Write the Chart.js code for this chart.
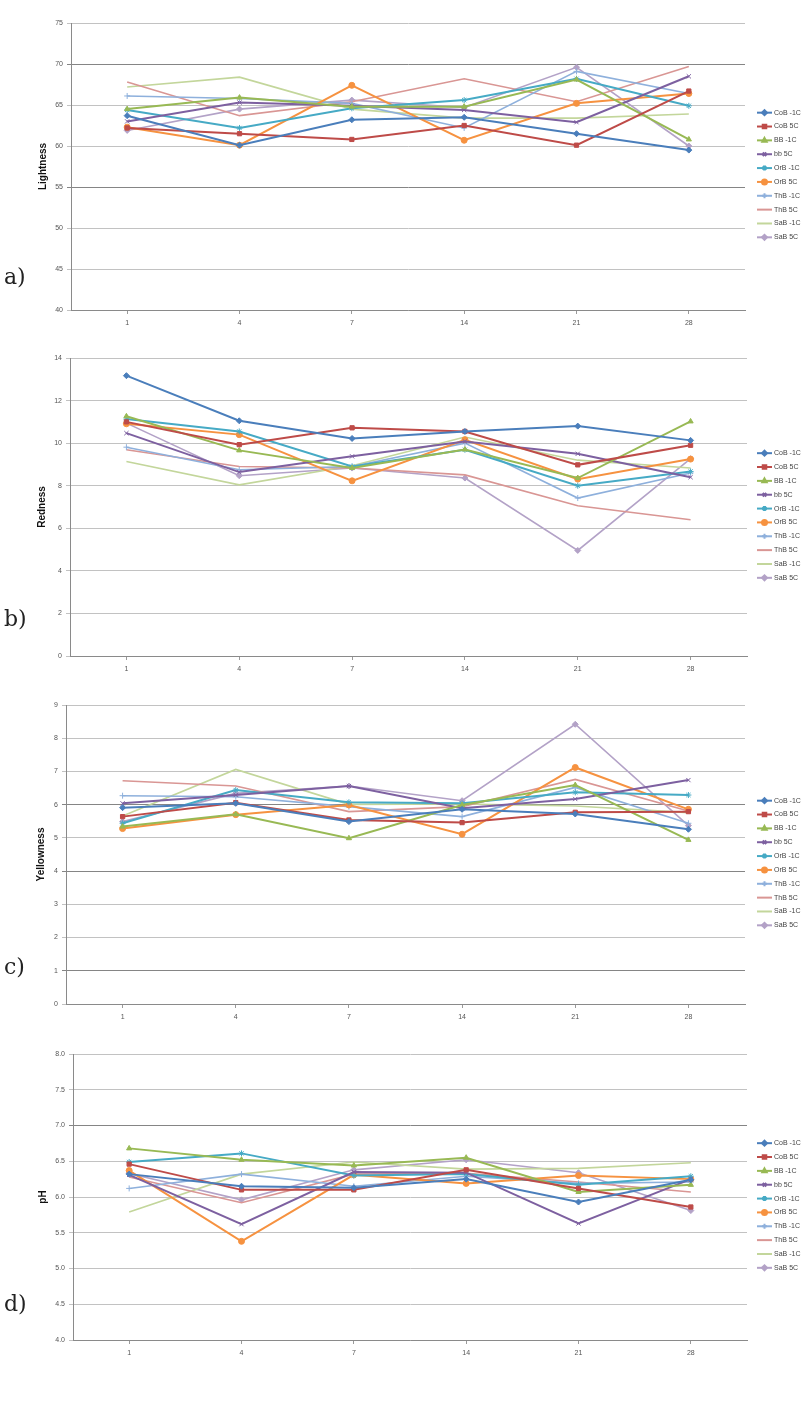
<!DOCTYPE html>
<html>
<head>
<meta charset="utf-8">
<script src="https://cdn.jsdelivr.net/npm/chart.js@4.4.1/dist/chart.umd.min.js"></script>
<style>
    body { margin: 0; background: #fff; width: 812px; height: 1401px; position: relative; overflow: hidden; }
    .frame { position: absolute; left: 0; width: 812px; }
    .tag { position: absolute; left: 4px; font-family: "DejaVu Serif", "Liberation Serif", serif; font-size: 22px; color: #222; line-height: 1; }
</style>
</head>
<body>
<div class="frame" id="frame-a"><canvas id="canvas-a"></canvas></div>
<div class="frame" id="frame-b"><canvas id="canvas-b"></canvas></div>
<div class="frame" id="frame-c"><canvas id="canvas-c"></canvas></div>
<div class="frame" id="frame-d"><canvas id="canvas-d"></canvas></div>
<div class="tag" style="top:266px">a)</div>
<div class="tag" style="top:608px">b)</div>
<div class="tag" style="top:956px">c)</div>
<div class="tag" style="top:1293px">d)</div>
<script>
const days = ['1', '4', '7', '14', '21', '28']
const series_names = ['CoB -1C', 'CoB 5C', 'BB -1C', 'bb 5C', 'OrB -1C', 'OrB 5C', 'ThB -1C', 'ThB 5C', 'SaB -1C', 'SaB 5C']

// one row per series, same order as series_names
const lightness = [
    [63.7, 60.1, 63.2, 63.5, 61.5, 59.5],
    [62.2, 61.5, 60.8, 62.5, 60.1, 66.7],
    [64.5, 65.9, 64.8, 64.8, 68.1, 60.8],
    [63.0, 65.3, 64.9, 64.4, 62.9, 68.5],
    [64.4, 62.2, 64.6, 65.6, 68.2, 64.9],
    [62.3, 60.1, 67.4, 60.7, 65.2, 66.4],
    [66.1, 65.8, 65.2, 62.2, 69.1, 66.4],
    [67.8, 63.7, 65.4, 68.2, 65.4, 69.7],
    [67.2, 68.4, 64.5, 63.4, 63.4, 63.9],
    [61.9, 64.5, 65.6, 64.7, 69.6, 60.0]
]
const redness = [
    [13.17, 11.05, 10.22, 10.55, 10.80, 10.13],
    [11.00, 9.93, 10.72, 10.55, 8.98, 9.90],
    [11.26, 9.66, 8.83, 9.70, 8.36, 11.02],
    [10.47, 8.64, 9.38, 10.08, 9.50, 8.40],
    [11.13, 10.55, 8.90, 9.69, 8.00, 8.67],
    [10.91, 10.40, 8.23, 10.16, 8.31, 9.25],
    [9.81, 8.75, 8.90, 10.00, 7.42, 8.60],
    [9.69, 8.90, 8.83, 8.51, 7.06, 6.40],
    [9.14, 8.04, 8.94, 10.29, 9.20, 8.83],
    [10.94, 8.47, 8.83, 8.36, 4.96, 9.27]
]
const yellowness = [
    [5.91, 6.04, 5.49, 5.86, 5.72, 5.26],
    [5.64, 6.06, 5.54, 5.46, 5.77, 5.79],
    [5.34, 5.71, 4.99, 5.99, 6.59, 4.94],
    [6.04, 6.29, 6.56, 5.89, 6.17, 6.74],
    [5.44, 6.44, 6.07, 6.04, 6.37, 6.29],
    [5.28, 5.70, 5.99, 5.11, 7.12, 5.86],
    [6.27, 6.24, 5.94, 5.64, 6.52, 5.44],
    [6.72, 6.56, 5.79, 5.94, 6.76, 5.81],
    [5.66, 7.06, 6.01, 6.02, 5.96, 5.76],
    [5.49, 6.34, 6.56, 6.12, 8.42, 5.37]
]
const ph = [
    [6.32, 6.15, 6.13, 6.25, 5.93, 6.24],
    [6.46, 6.10, 6.10, 6.38, 6.12, 5.86],
    [6.68, 6.52, 6.44, 6.55, 6.07, 6.17],
    [6.31, 5.62, 6.35, 6.34, 5.63, 6.25],
    [6.49, 6.61, 6.30, 6.32, 6.17, 6.29],
    [6.37, 5.38, 6.31, 6.19, 6.30, 6.25],
    [6.12, 6.32, 6.15, 6.29, 6.19, 6.21],
    [6.28, 5.92, 6.32, 6.33, 6.21, 6.07],
    [5.79, 6.32, 6.49, 6.39, 6.40, 6.48],
    [6.33, 5.96, 6.38, 6.52, 6.34, 5.81]
]

const COLORS = ['#4A7EBB', '#BE4B48', '#98B954', '#7D60A0', '#46AAC5', '#F69240', '#8EB0DC', '#D99694', '#C3D69B', '#B3A2C7']
const MARKERS = ['rectRot', 'rect', 'triangle', 'crossRot', 'star', 'circle', 'cross', false, false, 'rectRot']
const FONT = '"Liberation Sans", Arial, sans-serif'

// hand-drawn legend: a short line with the marker in the middle, like the spreadsheet one
const side_legend = {
    id: 'side_legend',
    afterDraw(chart) {
        const ctx = chart.ctx
        const area = chart.chartArea
        const step = 13.85
        const first = (area.top + area.bottom) / 2 + 8.5 - step * 4.5
        ctx.save()
        chart.data.datasets.forEach((ds, i) => {
            const y = first + i * step
            ctx.strokeStyle = ds.borderColor
            ctx.lineWidth = 2
            ctx.beginPath()
            ctx.moveTo(757, y)
            ctx.lineTo(772, y)
            ctx.stroke()
            if (ds.pointStyle) {
                ctx.fillStyle = ds.borderColor
                Chart.helpers.drawPoint(ctx, { pointStyle: ds.pointStyle, radius: 2.5, borderWidth: 1, rotation: 0 }, 764.5, y)
            }
            ctx.fillStyle = '#444'
            ctx.font = '7px ' + FONT
            ctx.textBaseline = 'middle'
            ctx.fillText(ds.label, 774, y)
        })
        ctx.restore()
    }
}

function draw_graph(name, frame, values, axis) {
    const el = document.getElementById('frame-' + name)
    el.style.top = frame.top + 'px'
    el.style.height = frame.height + 'px'
    const datasets = values.map((row, i) => ({
        label: series_names[i],
        data: row,
        borderColor: COLORS[i],
        backgroundColor: COLORS[i],
        borderWidth: i < 6 ? 2 : 1.6,
        pointStyle: MARKERS[i],
        pointRadius: MARKERS[i] ? 3 : 0,
        pointBorderWidth: 1,
        tension: 0
    }))
    const config = {
        type: 'line',
        data: { labels: days, datasets: datasets },
        options: {
            responsive: true,
            maintainAspectRatio: false,
            animation: false,
            layout: {
                padding: {
                    top: frame.plotTop - frame.top,
                    bottom: frame.top + frame.height - frame.plotBottom - 16,
                    left: 0,
                    right: 812 - frame.plotRight
                }
            },
            plugins: { legend: { display: false }, tooltip: { enabled: false } },
            scales: {
                x: {
                    offset: true,
                    afterFit: s => { s.height = 16 },
                    grid: { drawOnChartArea: false, drawTicks: true, tickLength: 4, color: '#9a9a9a' },
                    border: { color: '#8a8a8a' },
                    ticks: { font: { size: 7, family: FONT }, color: '#555', padding: 5, maxRotation: 0 }
                },
                y: {
                    min: axis.min,
                    max: axis.max,
                    afterFit: s => { s.width = frame.plotLeft },
                    grid: {
                        tickLength: 4,
                        color: c => (c.tick && axis.dark.includes(c.tick.value)) ? '#858585' : '#c2c2c2'
                    },
                    border: { color: '#8a8a8a' },
                    ticks: {
                        stepSize: axis.step,
                        padding: 4,
                        font: { size: 7, family: FONT },
                        color: '#555',
                        callback: v => axis.decimals ? v.toFixed(axis.decimals) : v
                    },
                    title: {
                        display: true,
                        text: axis.title,
                        color: '#111',
                        font: { size: 10, weight: 'bold', family: FONT },
                        padding: { top: frame.titleX - 6, bottom: 0 }
                    }
                }
            }
        },
        plugins: [side_legend]
    }
    return new Chart(document.getElementById('canvas-' + name), config)
}

draw_graph('a', { top: 0, height: 335, plotTop: 23, plotBottom: 310, plotLeft: 71, plotRight: 745, titleX: 43 },
    lightness, { title: 'Lightness', min: 40, max: 75, step: 5, dark: [70, 55] })
draw_graph('b', { top: 335, height: 345, plotTop: 358, plotBottom: 656, plotLeft: 70, plotRight: 747, titleX: 42 },
    redness, { title: 'Redness', min: 0, max: 14, step: 2, dark: [] })
draw_graph('c', { top: 680, height: 340, plotTop: 705, plotBottom: 1004, plotLeft: 66, plotRight: 745, titleX: 41 },
    yellowness, { title: 'Yellowness', min: 0, max: 9, step: 1, dark: [6, 4, 1] })
draw_graph('d', { top: 1020, height: 381, plotTop: 1054, plotBottom: 1340, plotLeft: 73, plotRight: 747, titleX: 43 },
    ph, { title: 'pH', min: 4, max: 8, step: 0.5, decimals: 1, dark: [7] })
</script>
</body>
</html>
